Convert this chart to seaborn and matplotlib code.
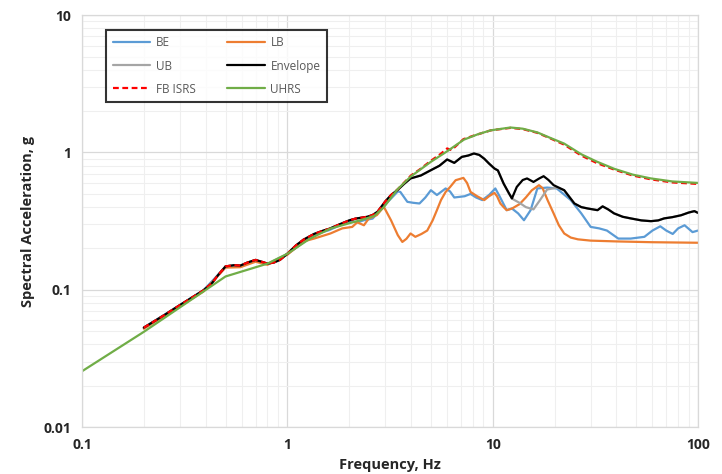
import numpy as np
import pandas as pd
import matplotlib
matplotlib.use("Agg")
import matplotlib.pyplot as plt
import seaborn as sns
from matplotlib.ticker import LogLocator, FixedLocator, FixedFormatter, NullFormatter

# ---------------- data ----------------
uhrs_f = [0.1, 0.2, 0.5, 0.8, 1.0, 1.29, 1.62, 2.0, 2.27, 2.65, 2.95, 3.43, 4.0, 5.0, 6.0, 7.24, 8.5,
          9.8, 12.2, 14.0, 16.5, 19.0, 22.3, 27.0, 32.0, 39.1, 48.0, 59.0, 75.0, 100.0]
uhrs_a = [0.0255, 0.0494, 0.125, 0.155, 0.183, 0.236, 0.279, 0.305, 0.321, 0.345, 0.40, 0.537, 0.67,
          0.855, 1.02, 1.24, 1.36, 1.45, 1.52, 1.49, 1.40, 1.28, 1.16, 0.97, 0.86, 0.76, 0.69, 0.647,
          0.615, 0.60]

fb_f = [0.2, 0.25, 0.3, 0.35, 0.39, 0.43, 0.46, 0.5, 0.55, 0.59, 0.64, 0.7, 0.75, 0.8, 0.86, 0.92,
        1.0, 1.1, 1.2, 1.35, 1.5, 1.6, 1.8, 2.0, 2.15, 2.3, 2.45, 2.6, 2.75, 3.0, 3.2, 3.45, 4.0,
        4.4, 5.0, 5.6, 6.0, 6.3, 7.2, 8.0, 9.8, 12.2, 14.0, 16.5, 19.0, 22.3, 27.0, 32.0, 39.1,
        48.0, 59.0, 75.0, 100.0]
fb_a = [0.053, 0.065, 0.0774, 0.0894, 0.099, 0.112, 0.128, 0.148, 0.151, 0.150, 0.158, 0.165, 0.160,
        0.155, 0.158, 0.165, 0.183, 0.21, 0.232, 0.255, 0.27, 0.278, 0.30, 0.32, 0.33, 0.335, 0.34,
        0.35, 0.37, 0.44, 0.49, 0.54, 0.68, 0.75, 0.87, 0.98, 1.07, 1.04, 1.25, 1.32, 1.45, 1.51,
        1.48, 1.39, 1.27, 1.14, 0.95, 0.84, 0.75, 0.68, 0.637, 0.605, 0.59]

env_f = [0.2, 0.25, 0.3, 0.35, 0.39, 0.43, 0.46, 0.5, 0.55, 0.59, 0.64, 0.7, 0.75, 0.8, 0.86, 0.92,
         1.0, 1.1, 1.2, 1.35, 1.5, 1.6, 1.8, 2.0, 2.15, 2.3, 2.45, 2.6, 2.75, 3.0, 3.2, 3.45, 3.7,
         3.98, 4.47, 5.0, 5.5, 6.0, 6.5, 7.08, 7.6, 8.1, 8.6, 9.1, 9.6, 10.2, 10.6, 11.3, 12.4, 13.1,
         14.0, 14.7, 15.8, 16.8, 17.7, 18.7, 19.8, 22.3, 25.0, 27.0, 29.0, 32.4, 34.3, 36.5, 39.0,
         43.0, 47.0, 53.0, 59.0, 64.0, 68.4, 75.0, 82.7, 90.0, 96.0, 100.0]
env_a = [0.053, 0.065, 0.0774, 0.0894, 0.099, 0.112, 0.128, 0.148, 0.151, 0.150, 0.158, 0.165, 0.160,
         0.155, 0.158, 0.165, 0.183, 0.21, 0.232, 0.255, 0.27, 0.278, 0.30, 0.32, 0.33, 0.335, 0.34,
         0.35, 0.37, 0.44, 0.49, 0.535, 0.59, 0.647, 0.68, 0.743, 0.80, 0.889, 0.84, 0.929, 0.95, 0.983,
         0.96, 0.90, 0.83, 0.764, 0.74, 0.594, 0.462, 0.561, 0.63, 0.647, 0.61, 0.645, 0.672, 0.63,
         0.578, 0.531, 0.425, 0.40, 0.391, 0.38, 0.405, 0.385, 0.36, 0.34, 0.331, 0.32, 0.316, 0.32,
         0.331, 0.338, 0.349, 0.365, 0.374, 0.363]

ub_f = [0.2, 0.25, 0.3, 0.35, 0.39, 0.43, 0.46, 0.5, 0.55, 0.59, 0.64, 0.7, 0.75, 0.8, 0.86, 0.92,
        1.0, 1.1, 1.2, 1.35, 1.5, 1.6, 1.8, 2.0, 2.15, 2.3, 2.45, 2.6, 2.75, 3.0, 3.2, 3.45, 3.7,
        3.98, 4.47, 5.0, 5.5, 6.0, 6.5, 7.08, 7.6, 8.1, 8.6, 9.1, 9.6, 10.2, 10.6, 11.3, 12.0, 12.6,
        13.5, 14.5, 15.8, 17.0, 18.4, 20.5, 22.3, 25.0, 27.0, 29.0, 32.4, 34.3, 36.5, 39.0,
        43.0, 47.0, 53.0, 59.0, 64.0, 68.4, 75.0, 82.7, 90.0, 96.0, 100.0]
ub_a = [0.053, 0.065, 0.0774, 0.0894, 0.099, 0.112, 0.128, 0.148, 0.151, 0.150, 0.158, 0.165, 0.160,
        0.155, 0.158, 0.165, 0.183, 0.21, 0.232, 0.255, 0.27, 0.278, 0.30, 0.32, 0.33, 0.335, 0.34,
        0.35, 0.37, 0.44, 0.49, 0.535, 0.59, 0.647, 0.68, 0.743, 0.80, 0.889, 0.84, 0.929, 0.95, 0.983,
        0.96, 0.90, 0.83, 0.764, 0.74, 0.594, 0.50, 0.455, 0.43, 0.40, 0.385, 0.45, 0.537, 0.555,
        0.531, 0.425, 0.40, 0.391, 0.38, 0.405, 0.385, 0.36, 0.34, 0.331, 0.32, 0.316, 0.32,
        0.331, 0.338, 0.349, 0.365, 0.374, 0.363]

be_f = [0.2, 0.39, 0.5, 0.59, 0.7, 0.8, 1.0, 1.35, 1.6, 1.8, 2.03, 2.2, 2.36, 2.6, 2.84, 3.1, 3.45,
        3.55, 3.84, 4.1, 4.4, 4.7, 5.0, 5.35, 5.9, 6.2, 6.5, 7.3, 7.8, 8.3, 8.9, 9.6, 10.3, 10.8,
        11.7, 12.4, 13.3, 14.2, 15.3, 16.5, 18.4, 20.5, 24.0, 27.0, 30.0, 33.0, 36.0, 40.9, 47.0,
        54.8, 60.0, 65.5, 70.0, 75.3, 80.0, 86.0, 94.0, 100.0]
be_a = [0.053, 0.099, 0.147, 0.149, 0.164, 0.154, 0.182, 0.252, 0.272, 0.295, 0.318, 0.31, 0.321,
        0.33, 0.38, 0.44, 0.52, 0.516, 0.437, 0.43, 0.425, 0.47, 0.531, 0.49, 0.547, 0.52, 0.47, 0.48,
        0.499, 0.47, 0.45, 0.49, 0.547, 0.48, 0.38, 0.391, 0.36, 0.321, 0.38, 0.547, 0.555, 0.547,
        0.45, 0.36, 0.287, 0.28, 0.27, 0.236, 0.236, 0.243, 0.27, 0.29, 0.27, 0.255, 0.28, 0.295,
        0.263, 0.27]

lb_f = [0.2, 0.39, 0.5, 0.59, 0.7, 0.8, 1.0, 1.2, 1.35, 1.62, 1.85, 2.07, 2.19, 2.36, 2.49, 2.73,
        2.95, 3.2, 3.45, 3.63, 3.8, 3.98, 4.2, 4.5, 4.8, 5.1, 5.35, 5.6, 5.9, 6.2, 6.6, 7.2, 7.5,
        7.8, 8.4, 9.1, 9.6, 10.2, 10.5, 10.9, 11.3, 11.7, 12.4, 13.5, 14.5, 15.5, 16.8, 17.5, 18.5,
        19.8, 21.0, 22.3, 24.0, 26.0, 30.0, 40.0, 60.0, 100.0]
lb_a = [0.052, 0.097, 0.145, 0.146, 0.160, 0.152, 0.180, 0.225, 0.236, 0.257, 0.28, 0.287, 0.31,
        0.295, 0.33, 0.35, 0.402, 0.32, 0.25, 0.223, 0.235, 0.257, 0.243, 0.255, 0.27, 0.32, 0.38,
        0.45, 0.516, 0.56, 0.628, 0.653, 0.60, 0.516, 0.48, 0.45, 0.48, 0.508, 0.48, 0.425, 0.40,
        0.38, 0.39, 0.42, 0.47, 0.53, 0.578, 0.55, 0.45, 0.36, 0.295, 0.257, 0.24, 0.233, 0.228,
        0.225, 0.222, 0.22]

series = [
    ("BE", be_f, be_a, "#5B9BD5", "-"),
    ("LB", lb_f, lb_a, "#ED7D31", "-"),
    ("UB", ub_f, ub_a, "#A5A5A5", "-"),
    ("Envelope", env_f, env_a, "#000000", "-"),
    ("FB ISRS", fb_f, fb_a, "#FF0000", (0, (2.6, 1.6))),
    ("UHRS", uhrs_f, uhrs_a, "#70AD47", "-"),
]

# ---------------- plot ----------------
sns.set_theme(style="white")
plt.rcParams["font.family"] = ["Open Sans", "DejaVu Sans"]

fig = plt.figure(figsize=(7.22, 4.74), dpi=100)
ax = fig.add_axes([0.1136, 0.099, 0.8532, 0.869])

for name, f, a, color, ls in series:
    df = pd.DataFrame({"Frequency": f, "Acc": a})
    sns.lineplot(data=df, x="Frequency", y="Acc", ax=ax, color=color, linestyle=ls,
                 linewidth=1.6, label=name, sort=False, estimator=None)

ax.set_xscale("log")
ax.set_yscale("log")
ax.set_xlim(0.1, 100)
ax.set_ylim(0.01, 10)

ax.xaxis.set_minor_locator(LogLocator(base=10, subs=np.arange(2, 10)))
ax.yaxis.set_minor_locator(LogLocator(base=10, subs=np.arange(2, 10)))
ax.xaxis.set_major_locator(FixedLocator([0.1, 1, 10, 100]))
ax.xaxis.set_major_formatter(FixedFormatter(["0.1", "1", "10", "100"]))
ax.yaxis.set_major_locator(FixedLocator([0.01, 0.1, 1, 10]))
ax.yaxis.set_major_formatter(FixedFormatter(["0.01", "0.1", "1", "10"]))
ax.xaxis.set_minor_formatter(NullFormatter())
ax.yaxis.set_minor_formatter(NullFormatter())

ax.grid(True, which="major", color="#d9d9d9", linewidth=0.9)
ax.grid(True, which="minor", color="#efefef", linewidth=0.8)
ax.set_axisbelow(True)
for s in ax.spines.values():
    s.set_color("#d9d9d9")
    s.set_linewidth(0.9)

ax.tick_params(axis="both", which="both", length=0, pad=8, labelsize=10, labelcolor="#262626")
for lab in ax.get_xticklabels() + ax.get_yticklabels():
    lab.set_fontweight("bold")

ax.set_xlabel("Frequency, Hz", fontsize=10.5, fontweight="bold", color="#262626", labelpad=4)
ax.set_ylabel("Spectral Acceleration, g", fontsize=10.5, fontweight="bold", color="#262626", labelpad=6)

# legend filled row by row: BE LB / UB Envelope / FB ISRS UHRS
handles, labels = ax.get_legend_handles_labels()
order = [0, 2, 4, 1, 3, 5]
leg = ax.legend([handles[i] for i in order], [labels[i] for i in order],
                loc="upper left", bbox_to_anchor=(0.039, 0.964), ncol=2, fontsize=8.5,
                frameon=True, fancybox=False, edgecolor="black", handlelength=3.2,
                handletextpad=0.5, columnspacing=2.6, borderpad=0.55, labelspacing=0.85,
                borderaxespad=0.0)
leg.get_frame().set_linewidth(1.5)
for t in leg.get_texts():
    t.set_color("#595959")

fig.savefig("out.png", dpi=100)
